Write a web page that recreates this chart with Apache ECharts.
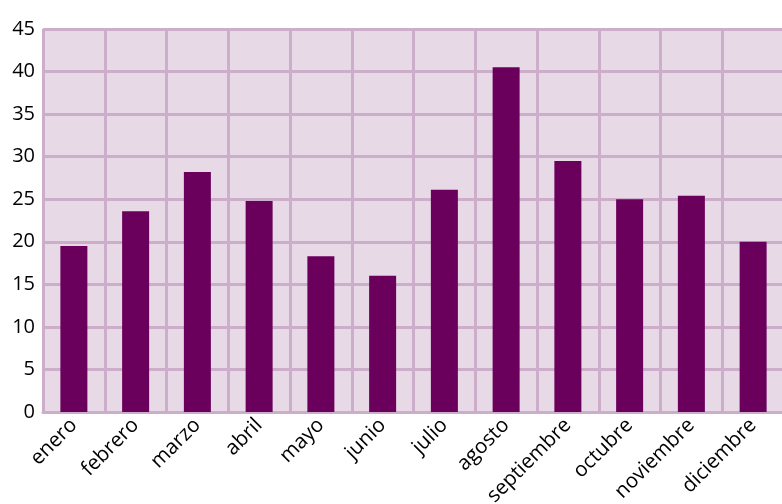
<!DOCTYPE html>
<html>
<head>
<meta charset="utf-8">
<script src="https://cdn.jsdelivr.net/npm/echarts@6/dist/echarts.min.js"></script>
<style>
  html, body { margin: 0; padding: 0; background: #fff; }
  #chart { width: 782px; height: 504px; }
</style>
</head>
<body>
<div id="chart"></div>
<script>
var months = ["enero", "febrero", "marzo", "abril", "mayo", "junio", "julio", "agosto", "septiembre", "octubre", "noviembre", "diciembre"];
var values = [19.5, 23.6, 28.2, 24.8, 18.3, 16.0, 26.1, 40.5, 29.5, 25.0, 25.4, 20.0];

var chart = echarts.init(document.getElementById("chart"));
var option = {
  animation: false,
  grid: {
    left: 43,
    right: -2,
    top: 29,
    bottom: 92,
    outerBoundsMode: "none",
    containLabel: false,
    show: true,
    backgroundColor: "#e8d9e6",
    borderWidth: 0
  },
  xAxis: {
    type: "category",
    data: months,
    axisLine: { show: true, lineStyle: { color: "#ccaecb", width: 3 } },
    axisTick: { show: false },
    splitLine: { show: true, lineStyle: { color: "#ccaecb", width: 3 } },
    axisLabel: {
      rotate: 45,
      color: "#000",
      fontFamily: "Open Sans",
      fontSize: 20.5,
      margin: 10,
      interval: 0
    }
  },
  yAxis: {
    type: "value",
    min: 0,
    max: 45,
    interval: 5,
    axisLine: { show: false },
    axisTick: { show: false },
    splitLine: { show: true, lineStyle: { color: "#ccaecb", width: 3 } },
    axisLabel: {
      color: "#000",
      fontFamily: "Open Sans",
      fontSize: 20,
      margin: 8
    }
  },
  series: [
    {
      type: "bar",
      data: values,
      barWidth: 27,
      itemStyle: { color: "#6a005c" }
    }
  ]
};
chart.setOption(option);
</script>
</body>
</html>
